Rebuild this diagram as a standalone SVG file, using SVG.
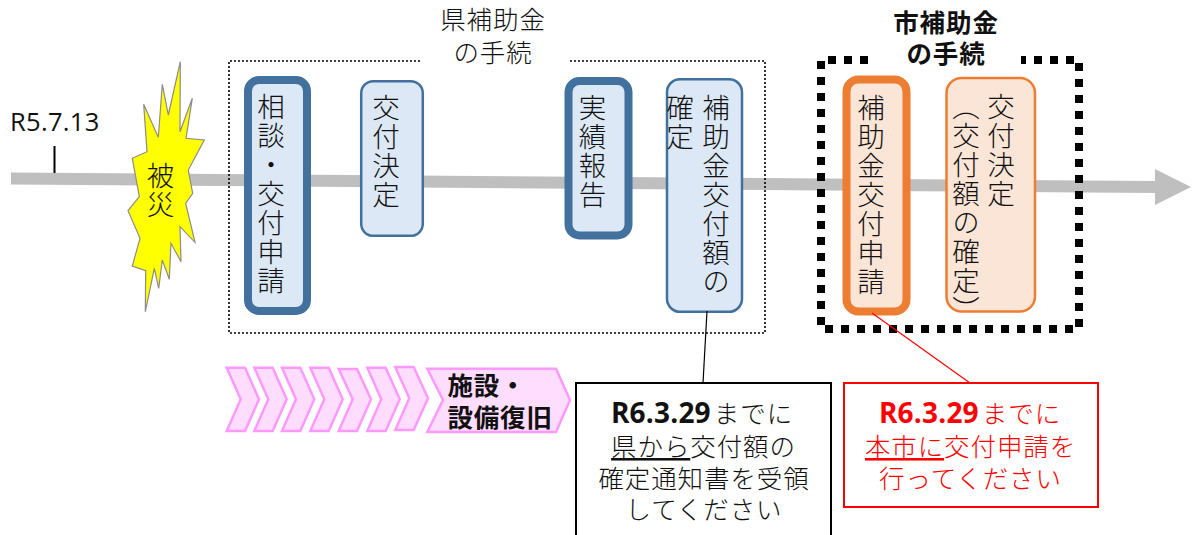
<svg xmlns="http://www.w3.org/2000/svg" width="1192" height="535" viewBox="0 0 1192 535">
<style>
text{font-family:"Noto Sans CJK JP","Noto Sans",sans-serif;font-size:25.500px;font-weight:300;fill:#111}
.v{writing-mode:vertical-rl;font-size:27.500px;letter-spacing:1.500px}
.h{text-anchor:middle;letter-spacing:0.900px}
.lat{font-family:"Open Sans",sans-serif;font-weight:700;font-size:28px;letter-spacing:0.200px}
.blueT{fill:#dce8f5;stroke:#41719c;stroke-width:8}
.bluet{fill:#dce8f5;stroke:#41719c;stroke-width:2.500}
.orT{fill:#fbe5d6;stroke:#ed7d31;stroke-width:8}
.ort{fill:#fbe5d6;stroke:#ed7d31;stroke-width:2.500}
.chev{fill:#ffddff;stroke:#ff99ff;stroke-width:2.500}
.red{fill:#ff0000}
</style>
<g id="timeline">
<polygon points="11,172.500 1155,181 1155,169 1191,187 1155,205 1155,193 11,184.500" fill="#bfbfbf"/>
<text x="10" y="131" style="font-family:'Open Sans',sans-serif;font-size:25.500px;font-weight:400;letter-spacing:0.300px">R5.7.13</text>
<line x1="54.500" y1="146" x2="54.500" y2="173" stroke="#000" stroke-width="2"/>
</g>
<g id="frames">
<path d="M420 61H229V333H765V61H568" fill="none" stroke="#000" stroke-width="1.600" stroke-dasharray="2 2"/>
<path d="M868 60H821V329H1079V60H1021" fill="none" stroke="#000" stroke-width="8" stroke-dasharray="8 8"/>
</g>
<g id="disaster">
<polygon points="180.300,61.700 180,131.700 192.300,98.300 186,138.300 204.300,140 188.300,170 192.700,193.300 185.700,203.300 195,242.300 180,226.700 181,261.700 171,243.300 169.300,279.300 162.300,260 158.700,288.300 154.300,268.300 145.300,311.700 145.700,270.700 132.300,266 140,238.300 128,210.700 139.300,196.700 132.300,158.300 147,151.700 143.700,104.300 158.300,137.300 162.300,84.300 168.300,115" fill="#ffff00" stroke="#8c8c8c" stroke-width="1.200"/>
<text class="v" x="160.500" y="162">被災</text>
</g>
<g id="consult">
<rect class="blueT" x="248" y="80" width="59" height="231" rx="11"/>
<text class="v" x="271" y="93">相談・交付申請</text>
</g>
<g id="decision">
<rect class="bluet" x="361.200" y="81.200" width="61.600" height="154.600" rx="12"/>
<text class="v" x="386" y="94">交付決定</text>
</g>
<g id="report">
<rect class="blueT" x="568.500" y="81" width="60" height="154.500" rx="11"/>
<text class="v" x="592.500" y="94">実績報告</text>
</g>
<g id="confirm">
<rect class="bluet" x="667" y="79.200" width="75" height="232.600" rx="13"/>
<text class="v" x="716" y="94">補助金交付額の</text>
<text class="v" x="680" y="94">確定</text>
</g>
<g id="city-apply">
<rect class="orT" x="846.500" y="79.500" width="60" height="232" rx="12"/>
<text class="v" x="871" y="94">補助金交付申請</text>
</g>
<g id="city-decision">
<rect class="ort" x="946.500" y="78" width="88.500" height="233.500" rx="15"/>
<text class="v" x="1001" y="93">交付決定</text>
<text class="v" x="966" y="93">（交付額の確定）</text>
</g>
<g id="pref-title">
<text class="h" x="493" y="29">県補助金</text>
<text class="h" x="493" y="62">の手続</text>
</g>
<g id="city-title">
<text class="h" x="946" y="32" style="font-weight:700">市補助金</text>
<text class="h" x="946" y="63" style="font-weight:700">の手続</text>
</g>
<g id="recovery">
<polygon class="chev" points="226.700,367.700 245,367.700 259,399.300 245,431 226.700,431 240.700,399.300"/>
<polygon class="chev" points="254.300,367.700 272.700,367.700 286.700,399.300 272.700,431 254.300,431 268.300,399.300"/>
<polygon class="chev" points="282,367.700 300.300,367.700 314.300,399.300 300.300,431 282,431 296,399.300"/>
<polygon class="chev" points="310.300,367.700 328.700,367.700 342.700,399.300 328.700,431 310.300,431 324.300,399.300"/>
<polygon class="chev" points="338.700,369 357,369 371,399.300 357,431 338.700,431 352.700,399.300"/>
<polygon class="chev" points="367.300,367.700 385.700,367.700 399.700,399.300 385.700,431 367.300,431 381.300,399.300"/>
<polygon class="chev" points="395.300,367 413.700,367 428,398.300 413.700,430 395.300,430 409.300,398.300"/>
<polygon class="chev" points="427.300,368.700 556,368.700 570,400 556,432 427.300,432 443,400"/>
<text x="447.500" y="395" style="font-weight:700;font-size:25.500px;letter-spacing:0.800px">施設・</text>
<text x="447.500" y="427" style="font-weight:700;font-size:25.500px;letter-spacing:0.800px">設備復旧</text>
</g>
<g id="connectors">
<line x1="707" y1="311" x2="703" y2="383" stroke="#000" stroke-width="1.200"/>
<line x1="872" y1="313" x2="970" y2="383" stroke="#ff0000" stroke-width="1.200"/>
</g>
<g id="note-pref">
<rect x="576" y="383" width="255" height="160" fill="#fff" stroke="#000" stroke-width="2"/>
<text class="h" x="702" y="423"><tspan class="lat">R6.3.29</tspan><tspan dx="3">までに</tspan></text>
<text class="h" x="703.500" y="456"><tspan text-decoration="underline">県から</tspan>交付額の</text>
<text class="h" x="704" y="488">確定通知書を受領</text>
<text class="h" x="704" y="519">してください</text>
</g>
<g id="note-city">
<rect x="844" y="383" width="254" height="124" fill="#fff" stroke="#ff0000" stroke-width="2"/>
<text class="h red" x="970" y="423"><tspan class="lat red">R6.3.29</tspan><tspan dx="3" class="red">までに</tspan></text>
<text class="h red" x="970.500" y="456"><tspan text-decoration="underline">本市に</tspan>交付申請を</text>
<text class="h red" x="970.500" y="488">行ってください</text>
</g>
</svg>
